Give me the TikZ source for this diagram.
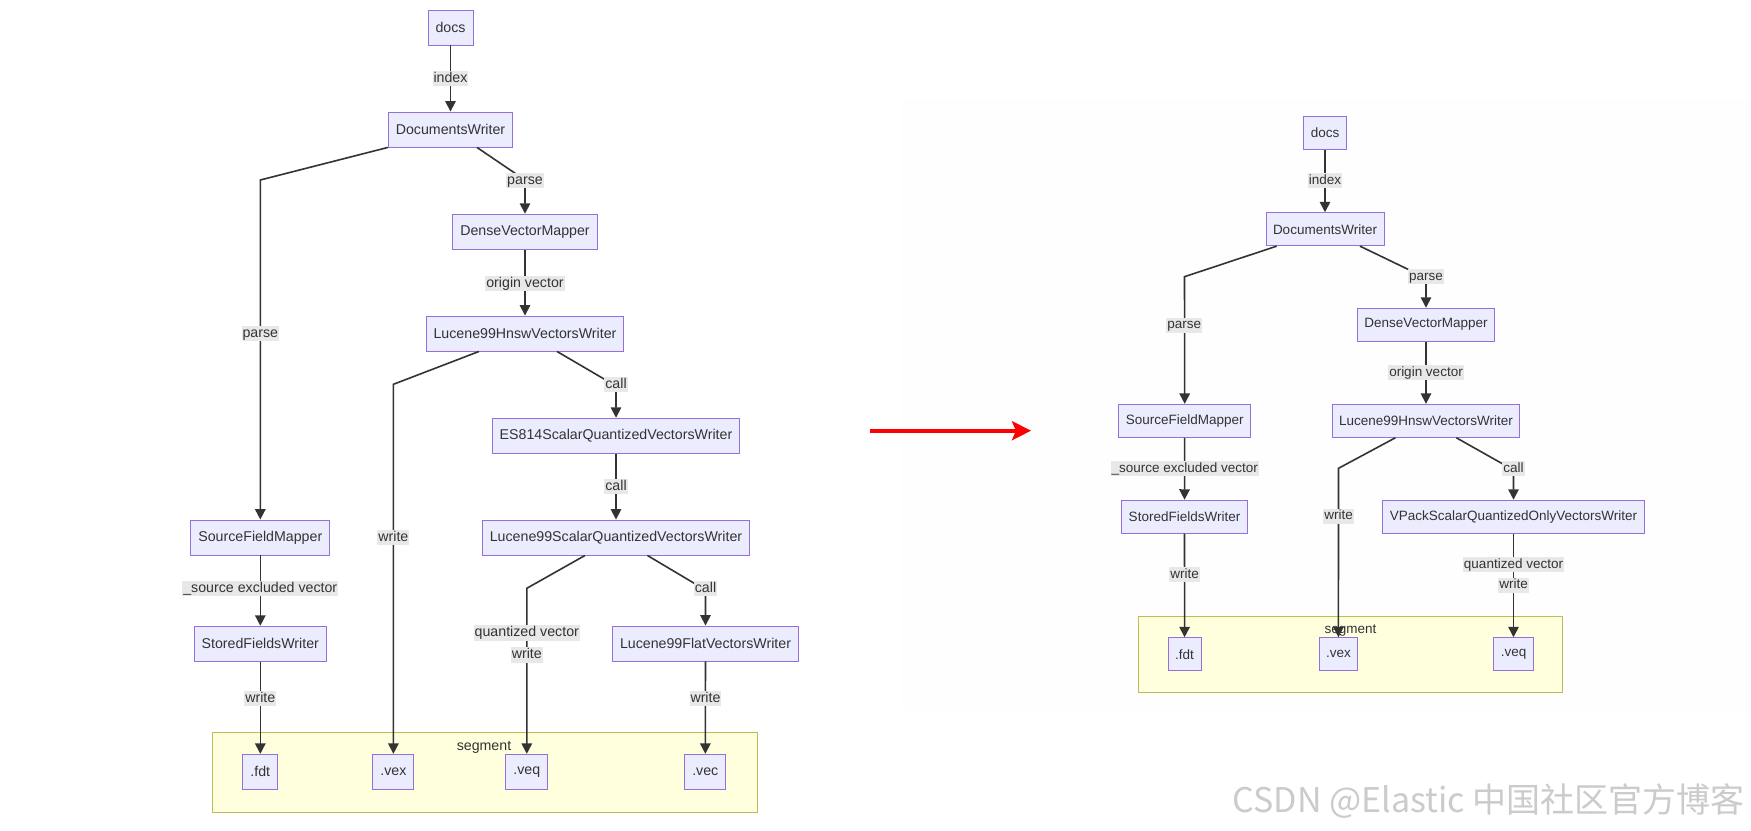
\documentclass[tikz,border=0pt]{standalone}
\usepackage{fontspec}
\setmainfont{Liberation Sans}
\newfontfamily\cjkfont{Noto Sans CJK SC}
\usetikzlibrary{arrows.meta}
\definecolor{boxfill}{HTML}{ECECFF}
\definecolor{boxborder}{HTML}{9370DB}
\definecolor{lblbg}{HTML}{E8E8E8}
\definecolor{edgec}{HTML}{333333}
\definecolor{txt}{HTML}{333333}
\definecolor{segfill}{HTML}{FFFFDE}
\definecolor{segborder}{HTML}{BDBD55}
\definecolor{panelbg}{HTML}{FEFEFE}
\definecolor{wmc}{HTML}{CBCBCB}
\begin{document}
\begin{tikzpicture}[x=1pt,y=-1pt,
  lbox/.style={draw=boxborder, fill=boxfill, line width=0.9pt, inner xsep=7.5pt, inner ysep=0pt, minimum height=35pt, text=txt, font=\fontsize{14.2}{16}\selectfont},
  rbox/.style={lbox, inner xsep=7pt, minimum height=33pt, font=\fontsize{13.5}{15}\selectfont},
  llbl/.style={fill=lblbg, inner xsep=1pt, inner ysep=1pt, text=txt, font=\fontsize{14.2}{16}\selectfont, text height=10.5pt, text depth=3pt},
  rlbl/.style={llbl, font=\fontsize{13.5}{15}\selectfont, text height=10pt, text depth=3pt},
  conn/.style={draw=edgec, line width=1.6pt, -{Triangle[length=10.5pt,width=10.5pt]}},
  seg/.style={draw=segborder, fill=segfill, line width=1pt},
  segtxt/.style={text=txt, inner sep=0pt},
]
\useasboundingbox (0,0) rectangle (1751,830);
\fill[white] (0,0) rectangle (1751,830);
\fill[panelbg] (901,100) rectangle (1751,711);

% ================= LEFT DIAGRAM =================
\draw[seg] (212,732.3) rectangle (757,812.3);
\node[segtxt, font=\fontsize{14.2}{16}\selectfont] (lsegl) at (484,747.3) {segment};

\node[lbox] (ldocs) at (450.5,27.5) {docs};
\node[lbox] (ldw) at (450.5,129.5) {DocumentsWriter};
\node[lbox] (ldvm) at (525,231.7) {DenseVectorMapper};
\node[lbox] (lhnsw) at (525,333.5) {Lucene99HnswVectorsWriter};
\node[lbox] (les) at (616,435.7) {ES814ScalarQuantizedVectorsWriter};
\node[lbox] (llsq) at (616,537.5) {Lucene99ScalarQuantizedVectorsWriter};
\node[lbox] (lsfm) at (260.3,537.5) {SourceFieldMapper};
\node[lbox] (lsfw) at (260.3,643.7) {StoredFieldsWriter};
\node[lbox] (lflat) at (705.5,643.5) {Lucene99FlatVectorsWriter};
\node[lbox] (lfdt) at (260.3,771.8) {.fdt};
\node[lbox] (lvex) at (393.4,771.8) {.vex};
\node[lbox] (lveq) at (526.8,771.8) {.veq};
\node[lbox] (lvec) at (705.3,771.8) {.vec};

\coordinate (lb1) at (260.3,180);
\coordinate (lb2) at (525,180);
\coordinate (lb3) at (393.4,384.3);
\coordinate (lb4) at (616,386);
\coordinate (lb5) at (526.8,588.3);
\coordinate (lb6) at (705.5,590);

\draw[conn] (ldocs) -- (ldw);
\draw[conn] (ldw.south west) -- (lb1) -- (lsfm.north);
\draw[conn] ([xshift=26.5pt]ldw.south) -- (lb2) -- (ldvm.north);
\draw[conn] (ldvm) -- (lhnsw);
\draw[conn] ([xshift=-46pt]lhnsw.south) -- (lb3) -- (lvex.north);
\draw[conn] ([xshift=32pt]lhnsw.south) -- (lb4) -- (les.north);
\draw[conn] (les) -- (llsq);
\draw[conn] ([xshift=-31pt]llsq.south) -- (lb5) -- (lveq.north);
\draw[conn] ([xshift=31.4pt]llsq.south) -- (lb6) -- (lflat.north);
\draw[conn] (lsfm) -- (lsfw);
\draw[conn] (lsfw) -- (lfdt);
\draw[conn] (lflat) -- (lvec);

\node[llbl] (ll1) at (450.5,78.5) {index};
\node[llbl] (ll2) at (525,180.5) {parse};
\node[llbl] (ll3) at (260.3,333.5) {parse};
\node[llbl] (ll4) at (525,283.5) {origin vector};
\node[llbl] (ll5) at (616,384.5) {call};
\node[llbl] (ll6) at (616,486.7) {call};
\node[llbl] (ll7) at (393.4,537.3) {write};
\node[llbl] (ll8) at (260.3,588.7) {\_source excluded vector};
\node[llbl] (ll9) at (526.8,633) {quantized vector};
\node[llbl] (ll10) at (526.8,655) {write};
\node[llbl] (ll11) at (705.5,588.7) {call};
\node[llbl] (ll12) at (260.3,698.7) {write};
\node[llbl] (ll13) at (705.5,698.7) {write};

% ================= RED ARROW =================
\coordinate (ra) at (870,430.7);
\coordinate (rb) at (1031,430.7);
\draw[red, line width=3.8pt, -{Stealth[length=19pt,width=19pt,inset=4pt]}] (ra) -- (rb);

% ================= RIGHT DIAGRAM =================
\draw[seg] (1138.8,616.3) rectangle (1562.4,692);
\node[segtxt, font=\fontsize{13.5}{15}\selectfont] (rsegl) at (1350.6,630.7) {segment};

\node[rbox] (rdocs) at (1325,132.7) {docs};
\node[rbox] (rdw) at (1325,229.2) {DocumentsWriter};
\node[rbox] (rsfm) at (1184.7,420.8) {SourceFieldMapper};
\node[rbox] (rdvm) at (1426,324.7) {DenseVectorMapper};
\node[rbox] (rhnsw) at (1426,420.8) {Lucene99HnswVectorsWriter};
\node[rbox] (rsfw) at (1184.5,516.7) {StoredFieldsWriter};
\node[rbox] (rvp) at (1513.5,516.7) {VPackScalarQuantizedOnlyVectorsWriter};
\node[rbox] (rfdt) at (1184.6,654.2) {.fdt};
\node[rbox] (rvex) at (1338.4,654.2) {.vex};
\node[rbox] (rveq) at (1513.5,654.2) {.veq};

\coordinate (rb1) at (1184.5,276.7);
\coordinate (rb2) at (1426,278);
\coordinate (rb3) at (1338.5,468.3);
\coordinate (rb4) at (1513.5,470);

\draw[conn] (rdocs) -- (rdw);
\draw[conn] ([xshift=-48.3pt]rdw.south) -- (rb1) -- (rsfm.north);
\draw[conn] ([xshift=35pt]rdw.south) -- (rb2) -- (rdvm.north);
\draw[conn] (rdvm) -- (rhnsw);
\draw[conn] ([xshift=-30.6pt]rhnsw.south) -- (rb3) -- (rvex.north);
\draw[conn] ([xshift=30.3pt]rhnsw.south) -- (rb4) -- (rvp.north);
\draw[conn] (rsfm) -- (rsfw);
\draw[conn] (rsfw) -- (rfdt);
\draw[conn] (rvp) -- (rveq);

\node[rlbl] (rl1) at (1325,180.7) {index};
\node[rlbl] (rl2) at (1184.3,325) {parse};
\node[rlbl] (rl3) at (1426,276.7) {parse};
\node[rlbl] (rl4) at (1426,372.7) {origin vector};
\node[rlbl] (rl5) at (1184.7,468.7) {\_source excluded vector};
\node[rlbl] (rl6) at (1338.6,516.3) {write};
\node[rlbl] (rl7) at (1513.5,468.7) {call};
\node[rlbl] (rl8) at (1184.5,574.7) {write};
\node[rlbl] (rl9) at (1513.5,564.7) {quantized vector};
\node[rlbl] (rl10) at (1513.5,585) {write};

% ================= WATERMARK =================
\node[anchor=east, text=wmc, inner sep=0pt, font=\cjkfont\fontsize{34}{40}\selectfont] (wm) at (1745,801) {CSDN @Elastic 中国社区官方博客};
\end{tikzpicture}
\end{document}
